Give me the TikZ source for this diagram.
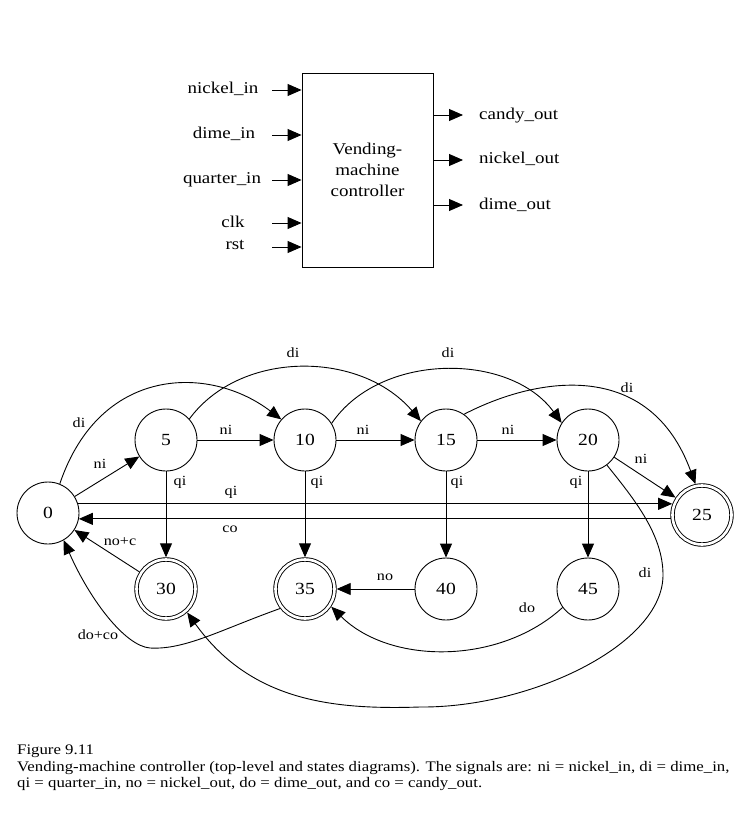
\documentclass[tikz,border=0pt]{standalone}
\usepackage{fontspec}
\setmainfont[FakeStretch=1.15]{Liberation Serif}
\usetikzlibrary{arrows.meta}
\begin{document}
\begin{tikzpicture}[x=1pt,y=-1pt,
  ln/.style={line width=0.9pt},
  arr/.style={ln,-{Triangle[length=14pt,width=12pt]}},
  st/.style={circle,draw,ln,minimum size=62pt,inner sep=0pt,font=\fontsize{17}{18}\selectfont},
  acc/.style={st,double,double distance=2.6pt,minimum size=59pt,outer sep=2.2pt},
  lab/.style={inner sep=0pt,font=\fontsize{14}{16}\selectfont},
  sig/.style={inner sep=0pt,font=\fontsize{16.5}{18}\selectfont},
  captxt/.style={inner sep=0pt,anchor=base west,font=\fontsize{14.6}{16}\selectfont}]
\useasboundingbox (0,0) rectangle (751,813);

% ---------- top-level block ----------
\node[draw,ln,minimum width=131pt,minimum height=194pt,inner sep=0pt,align=center,
      font=\fontsize{16.5}{21}\selectfont] (ctrl) at (367.5,170) {Vending-\\machine\\controller};

\coordinate (i1) at (272,90);
\coordinate (i2) at (272,135);
\coordinate (i3) at (272,180);
\coordinate (i4) at (272,223);
\coordinate (i5) at (272,247);
\draw[arr] (i1) -- (i1 -| ctrl.west);
\draw[arr] (i2) -- (i2 -| ctrl.west);
\draw[arr] (i3) -- (i3 -| ctrl.west);
\draw[arr] (i4) -- (i4 -| ctrl.west);
\draw[arr] (i5) -- (i5 -| ctrl.west);
\node[sig,anchor=base] (l1) at (223,94) {nickel\_in};
\node[sig,anchor=base] (l2) at (224,139) {dime\_in};
\node[sig,anchor=base] (l3) at (222,183) {quarter\_in};
\node[sig,anchor=base] (l4) at (233,227) {clk};
\node[sig,anchor=base] (l5) at (235,249) {rst};

\coordinate (o1) at (463,115);
\coordinate (o2) at (463,160);
\coordinate (o3) at (463,205);
\draw[arr] (o1 -| ctrl.east) -- (o1);
\draw[arr] (o2 -| ctrl.east) -- (o2);
\draw[arr] (o3 -| ctrl.east) -- (o3);
\node[sig,anchor=base west] (r1) at (479,120) {candy\_out};
\node[sig,anchor=base west] (r2) at (479,164) {nickel\_out};
\node[sig,anchor=base west] (r3) at (479,209) {dime\_out};

% ---------- state diagram ----------
\node[st]  (n0)  at (48,513)  {0};
\node[st]  (n5)  at (166,440) {5};
\node[st]  (n10) at (305,440) {10};
\node[st]  (n15) at (446,440) {15};
\node[st]  (n20) at (588,440) {20};
\node[acc] (n25) at (702,515) {25};
\node[acc] (n30) at (166,589) {30};
\node[acc] (n35) at (305,589) {35};
\node[st]  (n40) at (446,589) {40};
\node[st]  (n45) at (588,589) {45};

% straight transitions
\draw[arr] (n0) -- (n5);
\draw[arr] (n5) -- (n10);
\draw[arr] (n10) -- (n15);
\draw[arr] (n15) -- (n20);
\draw[arr] (n20) -- (n25);
\draw[arr] (n5) -- (n30);
\draw[arr] (n10) -- (n35);
\draw[arr] (n15) -- (n40);
\draw[arr] (n20) -- (n45);
\draw[arr] (n40) -- (n35);
\draw[arr] (n30) -- (n0);
\draw[arr] (n0.17) -- (n0.17 -| n25.160);
\draw[arr] (n25.187) -- (n25.187 -| n0.349);

% curved transitions
\draw[arr] (n0.68) .. controls (100,365) and (210,365) .. (n10.139);
\draw[arr] (n5.42) .. controls (240,350) and (360,350) .. (n15.143);
\draw[arr] (n10.32) .. controls (380,352) and (510,352) .. (n20.147);
\draw[arr] (n15.55) .. controls (540,375) and (650,360) .. (n25.102);
\draw[arr] (n20.307) .. controls (635,500) and (663,535) .. (663,575)
           .. controls (663,645) and (530,708) .. (420,707)
           .. controls (330,710) and (250,700) .. (n30.312);
\draw[arr] (n35.218) .. controls (220,630) and (185,650) .. (150,648)
           .. controls (125,646) and (90,600) .. (n0.300);
\draw[arr] (n45.216) .. controls (500,665) and (390,665) .. (n35.326);

% edge labels
\node[lab] (e1)  at (100,464) {ni};
\node[lab] (e2)  at (79,423)  {di};
\node[lab] (e3)  at (226,430) {ni};
\node[lab] (e4)  at (363,430) {ni};
\node[lab] (e5)  at (508,430) {ni};
\node[lab] (e6)  at (641,459) {ni};
\node[lab] (e7)  at (293,353) {di};
\node[lab] (e8)  at (448,353) {di};
\node[lab] (e9)  at (627,388) {di};
\node[lab] (e10) at (180,482) {qi};
\node[lab] (e11) at (317,482) {qi};
\node[lab] (e12) at (457,482) {qi};
\node[lab] (e13) at (576,482) {qi};
\node[lab] (e14) at (231,492) {qi};
\node[lab] (e15) at (230,529) {co};
\node[lab] (e16) at (120,542) {no+c};
\node[lab] (e17) at (98,635)  {do+co};
\node[lab] (e18) at (385,577) {no};
\node[lab] (e19) at (527,608) {do};
\node[lab] (e20) at (645,573) {di};

% caption
\node[captxt] (c1) at (17,754) {Figure 9.11};
\node[captxt] (c2) at (17,771) {Vending-machine controller (top-level and states diagrams). The signals are: ni = nickel\_in, di = dime\_in,};
\node[captxt] (c3) at (17,787) {qi = quarter\_in, no = nickel\_out, do = dime\_out, and co = candy\_out.};
\end{tikzpicture}
\end{document}
